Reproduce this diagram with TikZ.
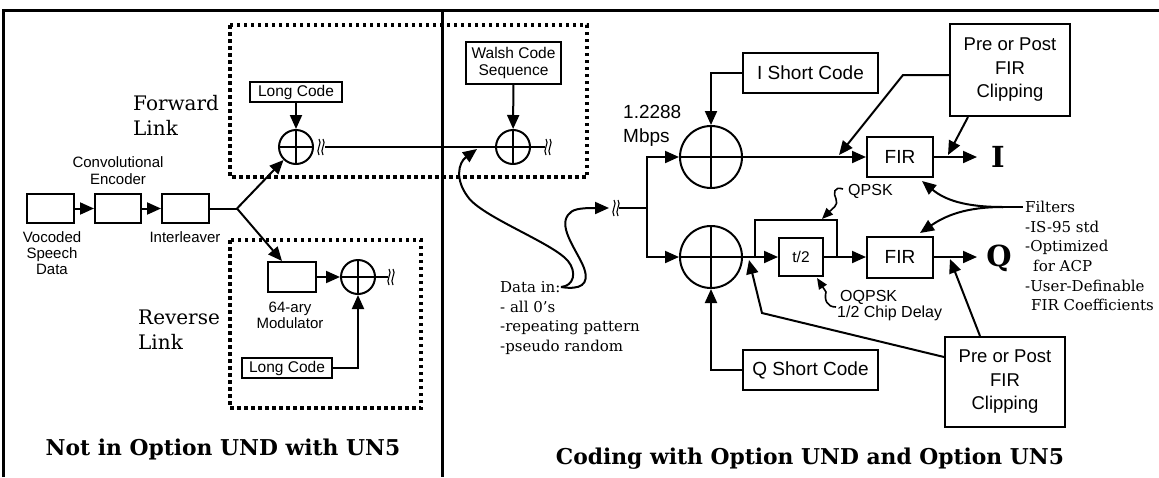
\documentclass[tikz,border=0pt]{standalone}
\usepackage{fontspec}
\setmainfont{DejaVu Serif}
\setsansfont{Liberation Sans}
\usetikzlibrary{arrows.meta,calc}
\begin{document}
\begin{tikzpicture}[x=1pt,y=-1pt,
  ln/.style={line width=2pt},
  arr/.style={line width=2pt,-{Triangle[length=14pt,width=12pt]}},
  arrs/.style={line width=1.6pt,-{Triangle[length=11pt,width=9pt]}},
  blk/.style={draw,line width=2pt,inner sep=0pt,font=\sffamily\fontsize{15.5}{17.5}\selectfont,align=center},
  bigblk/.style={blk,font=\sffamily\fontsize{18.5}{23.5}\selectfont},
  adder/.style={circle,draw,line width=2pt,inner sep=0pt,path picture={\draw[line width=2pt] (path picture bounding box.north)--(path picture bounding box.south) (path picture bounding box.west)--(path picture bounding box.east);}},
  lab/.style={inner sep=0pt,font=\sffamily\fontsize{15}{16}\selectfont,align=center},
  qlab/.style={inner sep=0pt,font=\sffamily\fontsize{16}{17}\selectfont},
  slab/.style={inner sep=0pt,font=\fontsize{15}{19.7}\selectfont,align=left},
  linklab/.style={inner sep=0pt,font=\fontsize{20}{25}\selectfont,align=left},
  ttl/.style={inner sep=0pt,font=\bfseries\fontsize{21.8}{24}\selectfont},
  outlab/.style={inner sep=0pt,font=\bfseries\fontsize{29}{30}\selectfont},
  dotbox/.style={line width=3.5pt,dash pattern=on 3.5pt off 3.5pt},
  brk/.pic={\draw[line width=1.1pt] (-2,-8) .. controls (2,-4) and (-6,3) .. (-2,8);
            \draw[line width=1.1pt] (2,-8) .. controls (6,-4) and (-2,3) .. (2,8);}
]
\useasboundingbox (0,0) rectangle (1159,477);
% frame
\draw[line width=3pt] (3,477) -- (3,10) -- (1159,10);
\draw[line width=3pt] (442,10) -- (442,477);
% dotted boxes
\draw[dotbox] (230,25) rectangle (587,177);
\draw[dotbox] (230,240) rectangle (421,408);

% left blocks
\node[blk,minimum width=47pt,minimum height=29pt] (b1) at (50.5,208.5) {};
\node[blk,minimum width=46pt,minimum height=29pt] (b2) at (118,208.5) {};
\node[blk,minimum width=47pt,minimum height=29pt] (b3) at (185.5,208.5) {};
\node[lab,font=\sffamily\fontsize{15}{17}\selectfont] (conv) at (118,171) {Convolutional\\Encoder};
\node[lab] (voc) at (52,253) {Vocoded\\Speech\\Data};
\node[lab] (intl) at (185,237) {Interleaver};
\node[linklab,anchor=west] (fl) at (133,115) {Forward\\Link};
\node[linklab,anchor=west] (rl) at (138,330) {Reverse\\Link};

\node[blk,minimum width=92pt,minimum height=20pt] (lcF) at (296,92) {Long Code};
\node[adder,minimum size=34pt] (aF) at (296,147) {};
\node[blk,minimum width=95pt,minimum height=42pt] (walsh) at (513.5,63) {Walsh Code\\Sequence};
\node[adder,minimum size=34pt] (aW) at (513,147) {};
\node[blk,minimum width=48pt,minimum height=30pt] (mod) at (292,277) {};
\node[lab] (modl) at (290,315) {64-ary\\Modulator};
\node[adder,minimum size=34pt] (aR) at (358,277) {};
\node[blk,minimum width=90pt,minimum height=20pt] (lcR) at (287,368) {Long Code};

\coordinate (sp) at (237,208.5);
\draw[arr] (b1) -- (b2);
\draw[arr] (b2) -- (b3);
\draw[ln] (b3.east) -- (sp);
\draw[arr] (sp) -- (aF);
\draw[arr] (sp) -- ([xshift=-10pt]mod.north);

\draw[arr] (lcF) -- (aF);
\coordinate (bkF) at (321,147);
\pic at (bkF) {brk};
\coordinate (bkFo) at (325,147);
\draw[ln] (bkFo) -- (aW.west);
\draw[arr] (walsh) -- (aW);
\coordinate (bkW) at (548,147);
\draw[ln] (aW.east) -- ([xshift=-3pt]bkW);
\pic at (bkW) {brk};

\draw[arr] (mod) -- (aR);
\draw[arr] (lcR.east) -| (aR.south);
\coordinate (bkR) at (391,277);
\draw[ln] (aR.east) -- ([xshift=-3pt]bkR);
\pic at (bkR) {brk};

% data in
\node[slab,anchor=west] (din) at (500,318) {Data in:\\- all 0's\\-repeating pattern\\-pseudo random};
\coordinate (dEnd) at (561,287);
\coordinate (wIn) at (477,149);
\draw[arr] (dEnd) .. controls (574,286) and (577,272) .. (568,261) .. controls (553,243) and (482,217) .. (468,197) .. controls (455,180) and (458,163) .. (wIn);
\coordinate (sIn) at (609,208);
\draw[arr] (dEnd) .. controls (580,290) and (590,285) .. (584,268) .. controls (578,252) and (558,228) .. (568,215) .. controls (572,209) and (580,208) .. (sIn);
\coordinate (bkS) at (616,208);
\pic at (bkS) {brk};
\coordinate (spQ) at (647,208);
\draw[ln] ([xshift=3pt]bkS) -- (spQ);

% right part
\node[inner sep=0pt,anchor=west,align=left,font=\sffamily\fontsize{19}{24}\selectfont] (rate) at (623,126) {1.2288\\Mbps};
\node[adder,minimum size=62pt] (aI) at (711,157) {};
\node[adder,minimum size=62pt] (aQ) at (711,257) {};
\node[bigblk,font=\sffamily\fontsize{19}{23}\selectfont,minimum width=135pt,minimum height=40pt] (isc) at (810.5,73) {I Short Code};
\node[bigblk,font=\sffamily\fontsize{19}{23}\selectfont,minimum width=135pt,minimum height=40pt] (qsc) at (810.5,370) {Q Short Code};
\node[blk,minimum width=44pt,minimum height=38pt] (t2) at (801,257) {t/2};
\node[bigblk,font=\sffamily\fontsize{19}{23}\selectfont,minimum width=66pt,minimum height=40pt] (firI) at (900,157) {FIR};
\node[bigblk,font=\sffamily\fontsize{19}{23}\selectfont,minimum width=66pt,minimum height=41pt] (firQ) at (900,257) {FIR};
\node[bigblk,minimum width=120pt,minimum height=92pt] (ppT) at (1010,70) {Pre or Post\\FIR\\Clipping};
\node[bigblk,minimum width=120pt,minimum height=90pt] (ppB) at (1005,382) {Pre or Post\\FIR\\Clipping};

\draw[arr] (spQ) |- (aI.west);
\draw[arr] (spQ) |- (aQ.west);
\draw[arr] (isc.west) -| (aI.north);
\draw[arr] (qsc.west) -| (aQ.south);
\draw[arr] (aI.east) -- (firI.west);
\draw[arr] (aQ.east) -- (t2.west);
\coordinate (byA) at (755,257);
\coordinate (byB) at (837,220);
\coordinate (byC) at (837,257);
\draw[ln] (byA) |- (byB) -- (byC);
\draw[arr] (t2.east) -- (firQ.west);

\coordinate (outI) at (977,157);
\draw[arr] (firI.east) -- (outI);
\node[outlab] (labI) at (998,157) {I};
\coordinate (outQ) at (977,257);
\draw[arr] (firQ.east) -- (outQ);
\node[outlab] (labQ) at (999,258) {Q};

% QPSK / OQPSK
\node[qlab,anchor=west] (qpsk) at (848,191) {QPSK};
\coordinate (qS) at (843,189);
\coordinate (tQP) at (822,219);
\draw[arrs] (qS) .. controls (834,186) and (833,193) .. (836,199) .. controls (839,205) and (832,209) .. (tQP);
\node[qlab,anchor=west] (oq1) at (840,297) {OQPSK};
\node[qlab,anchor=west] (oq2) at (837,313) {1/2 Chip Delay};
\coordinate (oS) at (836,307);
\coordinate (tOQ) at (817,278);
\draw[arrs] (oS) .. controls (827,307) and (824,300) .. (826,292) -- (tOQ);

% clipping connectors
\coordinate (kI) at (903,75);
\coordinate (tI1) at (839,155);
\draw[arr] ([yshift=-5pt]ppT.west) -- (kI) -- (tI1);
\coordinate (tI2) at (948,155);
\draw[arr] ([xshift=-42pt]ppT.south) -- (tI2);
\coordinate (tQ1) at (950,259);
\draw[arr] ([xshift=-25pt]ppB.north) -- (tQ1);
\coordinate (kQ) at (762,313);
\coordinate (tQ2) at (749,260);
\draw[arr] ([yshift=25pt]ppB.west) -- (kQ) -- (tQ2);

% filters
\node[slab,anchor=west] (filt) at (1025,256) {Filters\\-IS-95 std\\-Optimized\\\hspace*{8pt}for ACP\\-User-Definable\\\hspace*{6pt}FIR Coefficients};
\coordinate (fA) at (1023,207);
\coordinate (fB) at (1003,207);
\draw[ln] (fA) -- (fB);
\coordinate (tF1) at (922,181);
\coordinate (tF2) at (920,233);
\draw[arr] (fB) .. controls (965,207) and (945,200) .. (tF1);
\draw[arr] (fB) .. controls (965,207) and (945,216) .. (tF2);

% titles
\node[ttl] (tL) at (223,449) {Not in Option UND with UN5};
\node[ttl] (tR) at (810,459) {Coding with Option UND and Option UN5};
\end{tikzpicture}
\end{document}
